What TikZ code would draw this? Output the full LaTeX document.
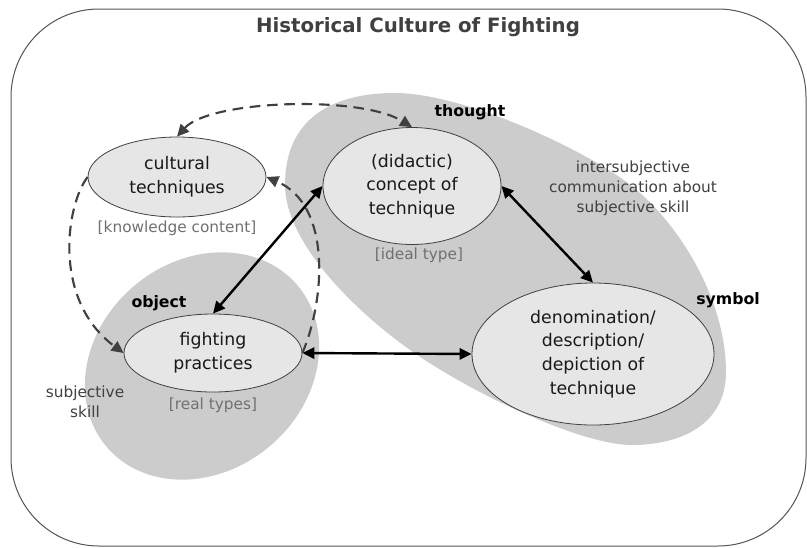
\documentclass[tikz,border=0pt]{standalone}
\usepackage{fontspec}
\setmainfont{DejaVu Sans}
\usetikzlibrary{shapes.geometric,arrows.meta}
\definecolor{blobgray}{HTML}{CCCCCC}
\definecolor{nodefill}{HTML}{E6E6E6}
\definecolor{dline}{HTML}{404040}
\definecolor{labgray}{HTML}{707070}
\definecolor{txtgray}{HTML}{404040}
\definecolor{framegray}{HTML}{555555}
\begin{document}
\begin{tikzpicture}[x=0.75pt,y=-0.75pt,
  concept/.style={ellipse, draw=dline, line width=0.6pt, fill=nodefill, inner sep=0pt, align=center,
    font=\fontsize{13}{17.8}\selectfont, text=black!90},
  bracket/.style={text=labgray, font=\fontsize{11.5}{15}\selectfont, inner sep=0pt},
  note/.style={text=txtgray, font=\fontsize{11.5}{15}\selectfont, align=center, inner sep=0pt},
  tag/.style={font=\fontsize{11.8}{14}\selectfont\bfseries, inner sep=0pt},
  titlestyle/.style={font=\fontsize{14.8}{18}\selectfont\bfseries, text=txtgray, inner sep=0pt},
  tipshape/.tip={Triangle[length=9pt,width=8.5pt]},
  solidarrow/.style={line width=1.8pt, black, tipshape-tipshape},
  dasharrow/.style={dline, line width=1.6pt, dash pattern=on 8pt off 5pt}
]
\useasboundingbox (0,0) rectangle (807,547);
% frame
\draw[framegray, line width=0.75pt, rounded corners=66pt] (11,9) rectangle (806,546);
% blobs
\fill[blobgray] (285,185) .. controls (285,120) and (330,93) .. (395,93)
  .. controls (465,93) and (590,152) .. (633,187)
  .. controls (680,225) and (726,300) .. (726,372)
  .. controls (726,425) and (680,445) .. (632,445)
  .. controls (580,445) and (470,392) .. (413,352)
  .. controls (350,308) and (285,240) .. cycle;
\fill[blobgray, rotate around={40:(202,366)}] (202,366) ellipse [x radius=93.75pt, y radius=78.75pt];
% title
\node[titlestyle] (title) at (418,27) {Historical Culture of Fighting};
% nodes
\node[concept, minimum width=133.5pt, minimum height=60pt] (cult) at (177,177) {cultural\\techniques};
\node[concept, minimum width=133.5pt, minimum height=87.75pt] (concept) at (412,186) {(didactic)\\concept of\\technique};
\node[concept, minimum width=181.5pt, minimum height=106.5pt] (denom) at (593,354) {denomination/\\description/\\depiction of\\technique};
\node[concept, minimum width=133.5pt, minimum height=58.5pt] (fight) at (213,353) {fighting\\practices};
% labels
\node[bracket] (kc) at (177,228) {[knowledge content]};
\node[bracket] (it) at (419,255) {[ideal type]};
\node[bracket] (rt) at (213,405) {[real types]};
\node[note] (inter) at (633,188) {intersubjective\\communication about\\subjective skill};
\node[note] (subj) at (85,402) {subjective\\skill};
\node[tag] (th) at (470,112) {thought};
\node[tag] (sy) at (728,300) {symbol};
\node[tag] (ob) at (159,303) {object};
% solid arrows
\draw[solidarrow] (concept.west) -- (fight.north);
\draw[solidarrow] (concept.east) -- (denom.north);
\draw[solidarrow] (fight.east) -- (denom.west);
% dashed arrows
\draw[dasharrow, tipshape-tipshape] (cult.north) .. controls (210,100) and (360,95) .. (concept.north);
\draw[dasharrow, -tipshape] (cult.west) .. controls (66,205) and (52,300) .. (fight.west);
\draw[dasharrow, -tipshape] (fight.east) .. controls (325,300) and (332,205) .. (cult.east);
\end{tikzpicture}
\end{document}
